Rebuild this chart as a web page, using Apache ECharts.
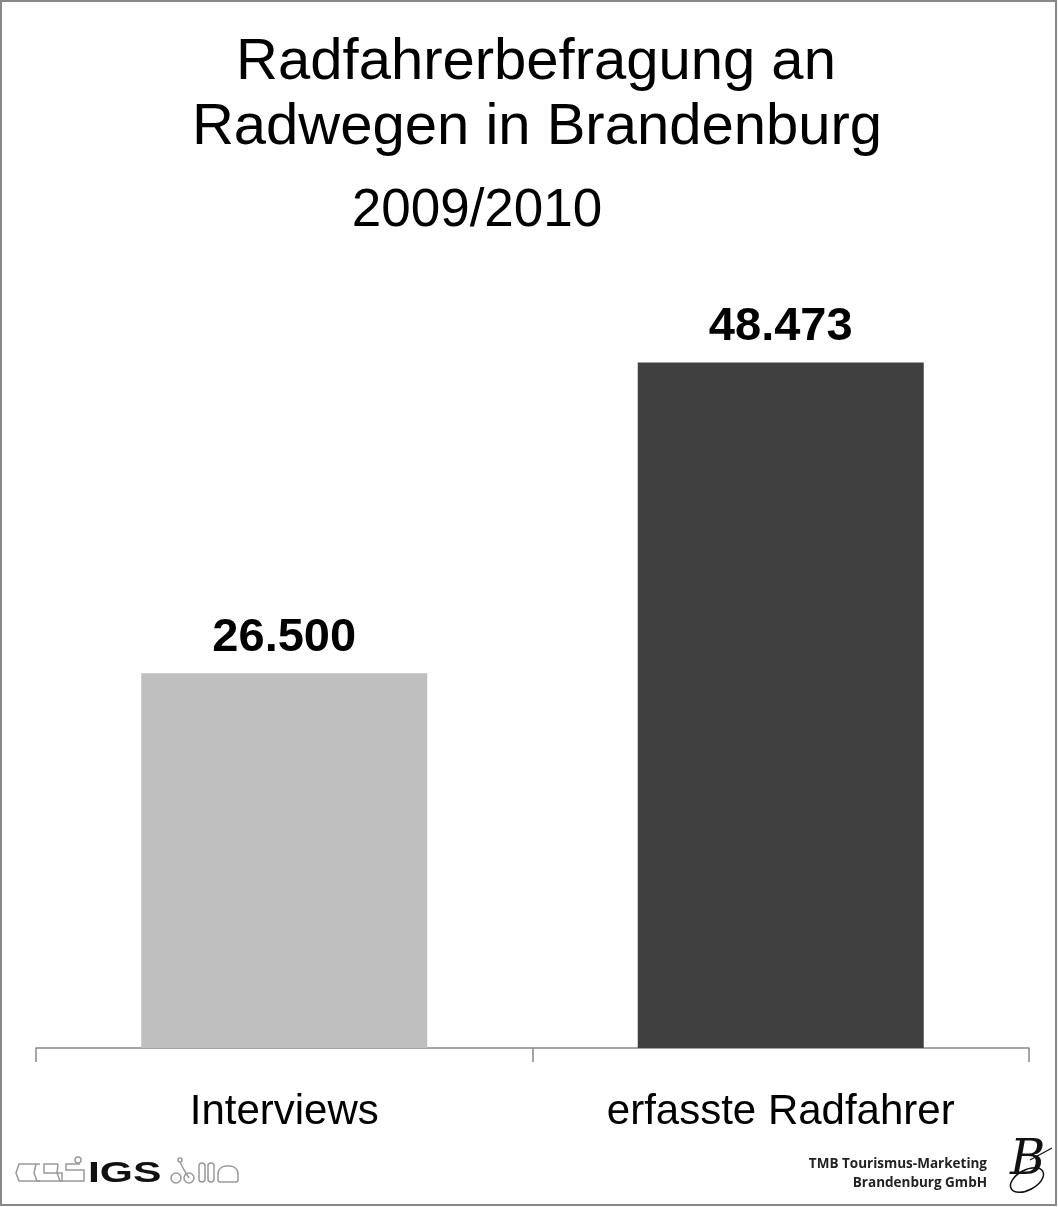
<!DOCTYPE html>
<html>
<head>
<meta charset="utf-8">
<script src="https://cdn.jsdelivr.net/npm/echarts@6/dist/echarts.min.js"></script>
<style>
html,body{margin:0;padding:0;background:#fff;}
#c{width:1058px;height:1207px;}
</style>
</head>
<body>
<div id="c"></div>
<script>
const categories = ['Interviews', 'erfasste Radfahrer'];
const values = [26500, 48473];
const barColors = ['#bfbfbf', '#404040'];
const titleLines = ['Radfahrerbefragung an', 'Radwegen in Brandenburg', '2009/2010'];
const logoLines = ['TMB Tourismus-Marketing', 'Brandenburg GmbH'];

const FONT = '"Liberation Sans", Arial, sans-serif';
const chart = echarts.init(document.getElementById('c'), null, {renderer: 'canvas'});

function fmt(v) {
  return v.toLocaleString('de-DE', {minimumFractionDigits: 0});
}

const grayStroke = {fill: 'none', stroke: '#999', lineWidth: 1.5};

chart.setOption({
  backgroundColor: '#ffffff',
  animation: false,
  title: [
    {text: titleLines[0], left: 531, top: 58 - 29, textAlign: 'center',
     textStyle: {fontFamily: FONT, fontSize: 58, fontWeight: 'normal', color: '#000', lineHeight: 58}},
    {text: titleLines[1], left: 532, top: 123 - 29, textAlign: 'center',
     textStyle: {fontFamily: FONT, fontSize: 58, fontWeight: 'normal', color: '#000', lineHeight: 58}},
    {text: titleLines[2], left: 472, top: 206 - 27, textAlign: 'center',
     textStyle: {fontFamily: FONT, fontSize: 53, fontWeight: 'normal', color: '#000', lineHeight: 54}}
  ],
  grid: {left: 36, right: 29, top: 341, bottom: 159, containLabel: false},
  xAxis: {
    type: 'category',
    data: categories,
    axisLine: {lineStyle: {color: '#888', width: 1.5}},
    axisTick: {show: true, length: 14, lineStyle: {color: '#888', width: 1.5}},
    axisLabel: {fontFamily: FONT, fontSize: 42, color: '#000', margin: 43, lineHeight: 42}
  },
  yAxis: {
    type: 'value', min: 0, max: 50000, show: false,
    splitLine: {show: false}
  },
  series: [{
    type: 'bar',
    barWidth: 286,
    data: values.map((v, i) => ({value: v, itemStyle: {color: barColors[i]}})),
    label: {
      show: true, position: 'top', distance: 12,
      fontFamily: FONT, fontSize: 47, fontWeight: 'bold', color: '#000', lineHeight: 47,
      formatter: p => fmt(p.value)
    }
  }],
  graphic: [
    {type: 'rect', shape: {x: 1, y: 1, width: 1055, height: 1204}, style: {fill: 'none', stroke: '#888', lineWidth: 2}, silent: true},
    // IGS logo (approximation)
    {type: 'polyline', shape: {points: [[40,1181],[19,1181],[16,1173],[19,1164],[40,1164]]}, style: grayStroke},
    {type: 'polyline', shape: {points: [[36,1164],[34,1173],[37,1181],[62,1181],[62,1173],[44,1173],[44,1164],[58,1164]]}, style: grayStroke},
    {type: 'polyline', shape: {points: [[58,1164],[57,1173],[60,1181],[84,1181],[84,1170],[66,1170],[66,1164],[80,1164]]}, style: grayStroke},
    {type: 'circle', shape: {cx: 78, cy: 1160, r: 3}, style: grayStroke},
    {type: 'text', left: 88, top: 1159, scaleX: 1.42, originX: 88, originY: 1170,
     style: {text: 'IGS', fontFamily: FONT, fontSize: 30, fontWeight: 'bold', fill: '#111'}},
    {type: 'circle', shape: {cx: 176, cy: 1178, r: 5}, style: grayStroke},
    {type: 'circle', shape: {cx: 189, cy: 1178, r: 5}, style: grayStroke},
    {type: 'polyline', shape: {points: [[180,1162],[184,1170],[189,1178]]}, style: grayStroke},
    {type: 'circle', shape: {cx: 180, cy: 1160, r: 2}, style: grayStroke},
    {type: 'rect', shape: {x: 199, y: 1163, width: 6, height: 19, r: 3}, style: grayStroke},
    {type: 'rect', shape: {x: 208, y: 1163, width: 6, height: 19, r: 3}, style: grayStroke},
    {type: 'rect', shape: {x: 218, y: 1166, width: 20, height: 16, r: [8,8,2,2]}, style: grayStroke},
    // TMB logo text
    {type: 'text', right: 71, top: 1157, style: {text: logoLines[0], fontFamily: '"Open Sans", sans-serif', fontSize: 13.5, fontWeight: 'bold', fill: '#222', align: 'right'}},
    {type: 'text', right: 71, top: 1176, style: {text: logoLines[1], fontFamily: '"Open Sans", sans-serif', fontSize: 13.5, fontWeight: 'bold', fill: '#222', align: 'right'}},
    {type: 'ellipse', shape: {cx: 1027, cy: 1180, rx: 18, ry: 10}, rotation: 0.5, originX: 1027, originY: 1180, style: {fill: 'none', stroke: '#111', lineWidth: 1.5}},
    {type: 'line', shape: {x1: 1030, y1: 1160, x2: 1052, y2: 1148}, style: {stroke: '#111', lineWidth: 1.2}},
    {type: 'text', left: 1010, top: 1138, style: {text: 'B', fontFamily: '"DejaVu Serif", serif', fontStyle: 'italic', fontSize: 48, fill: '#111'}}
  ]
});
</script>
</body>
</html>
